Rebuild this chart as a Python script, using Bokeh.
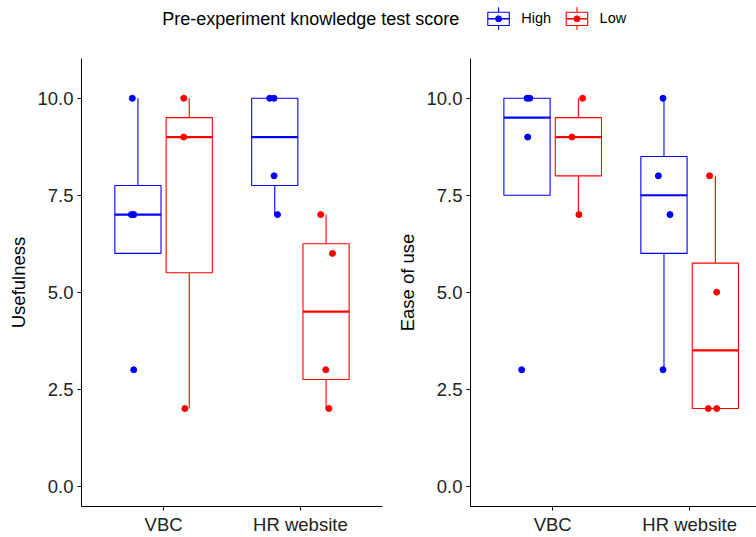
from bokeh.plotting import figure
from bokeh.layouts import column, row
from bokeh.models import ColumnDataSource, Range1d, FixedTicker, PrintfTickFormatter
from bokeh.embed import file_html
from bokeh.resources import INLINE
from bokeh.core.properties import value

# ---------------- data ----------------
categories = ["VBC", "HR website"]
groups = ["High", "Low"]
group_colors = ["#0000FF", "#FF0000"]
legend_title = "Pre-experiment knowledge test score"
y_ticks = [0, 2.5, 5, 7.5, 10]

# boxes in order (VBC,High), (VBC,Low), (HR website,High), (HR website,Low)
box_category = ["VBC", "VBC", "HR website", "HR website"]
box_group = ["High", "Low", "High", "Low"]

use_lower = [6, 2, 7, 2]
use_q1 = [6, 5.5, 7.75, 2.75]
use_median = [7, 9, 9, 4.5]
use_q3 = [7.75, 9.5, 10, 6.25]
use_upper = [10, 10, 10, 7]

ease_lower = [7.5, 7, 3, 2]
ease_q1 = [7.5, 8, 6, 2]
ease_median = [9.5, 9, 7.5, 3.5]
ease_q3 = [10, 9.5, 8.5, 5.75]
ease_upper = [10, 10, 10, 8]

pt_category = ["VBC"] * 4 + ["VBC"] * 3 + ["HR website"] * 4 + ["HR website"] * 4
pt_group = ["High"] * 4 + ["Low"] * 3 + ["High"] * 4 + ["Low"] * 4

use_pt_value = [10, 7, 7, 3, 10, 9, 2, 10, 10, 8, 7, 7, 6, 3, 2]
use_pt_jitter = [-0.041, -0.048, -0.030, -0.031, -0.040, -0.040, -0.032,
                 -0.037, -0.005, -0.005, 0.020, -0.039, 0.047, -0.002, 0.020]

ease_pt_value = [10, 10, 9, 3, 10, 9, 7, 10, 8, 7, 3, 8, 5, 2, 2]
ease_pt_jitter = [0.000, 0.020, 0.005, -0.039, 0.031, -0.047, 0.004,
                  -0.007, -0.041, 0.044, -0.007, -0.042, 0.010, -0.051, 0.010]

# ---------------- styling ----------------
FONT = "Liberation Sans"
DODGE = 0.1875
HALF_W = 0.16875
cat_pos = {c: i + 1 for i, c in enumerate(categories)}
col_of = dict(zip(groups, group_colors))
dodge_of = {"High": -DODGE, "Low": DODGE}


def panel(lower, q1, med, q3, upper, pv, pj, ylabel, x_end, width, bl, br):
    p = figure(width=width, height=489, x_range=Range1d(0.4, x_end),
               y_range=Range1d(-0.525, 11.025), output_backend="svg",
               toolbar_location=None, min_border_left=bl, min_border_right=br,
               min_border_top=10, min_border_bottom=29)
    p.outline_line_color = None
    p.grid.visible = False
    p.background_fill_color = "white"
    p.border_fill_color = "white"

    cx = [cat_pos[c] + dodge_of[g] for c, g in zip(box_category, box_group)]
    cols = [col_of[g] for g in box_group]
    src = ColumnDataSource(dict(
        x=cx, left=[x - HALF_W for x in cx], right=[x + HALF_W for x in cx],
        lower=lower, q1=q1, med=med, q3=q3, upper=upper, color=cols))
    p.segment(x0="x", y0="q3", x1="x", y1="upper", line_color="color", line_width=1.1, source=src)
    p.segment(x0="x", y0="q1", x1="x", y1="lower", line_color="color", line_width=1.1, source=src)
    p.quad(left="left", right="right", bottom="q1", top="q3", fill_color="white",
           line_color="color", line_width=1.1, source=src)
    p.segment(x0="left", y0="med", x1="right", y1="med", line_color="color", line_width=2.2, source=src)

    px = [cat_pos[c] + dodge_of[g] + j for c, g, j in zip(pt_category, pt_group, pj)]
    pc = [col_of[g] for g in pt_group]
    psrc = ColumnDataSource(dict(x=px, y=pv, color=pc))
    p.scatter(x="x", y="y", size=6, fill_color="color", line_color="color", source=psrc)

    p.xaxis.ticker = FixedTicker(ticks=[cat_pos[c] for c in categories])
    p.xaxis.major_label_overrides = {cat_pos[c]: c for c in categories}
    p.yaxis.ticker = FixedTicker(ticks=y_ticks)
    p.yaxis.formatter = PrintfTickFormatter(format="%.1f")
    for ax in (p.xaxis[0], p.yaxis[0]):
        ax.axis_line_color = "black"
        ax.axis_line_width = 1
        ax.major_tick_line_color = "black"
        ax.major_tick_in = 0
        ax.major_tick_out = 4
        ax.minor_tick_line_color = None
        ax.major_label_text_font = FONT
        ax.major_label_text_font_size = "18.5px"
        ax.major_label_text_color = "#222222"
    p.yaxis.major_label_standoff = 4
    p.xaxis.major_label_standoff = 3
    p.yaxis.axis_label = ylabel
    p.yaxis.axis_label_text_font = FONT
    p.yaxis.axis_label_text_font_size = "18.5px"
    p.yaxis.axis_label_text_font_style = "normal"
    p.yaxis.axis_label_text_color = "black"
    p.yaxis.axis_label_standoff = 5
    return p


left = panel(use_lower, use_q1, use_median, use_q3, use_upper, use_pt_value, use_pt_jitter,
             "Usefulness", 2.6, 392, 81, 10)
right = panel(ease_lower, ease_q1, ease_median, ease_q3, ease_upper, ease_pt_value, ease_pt_jitter,
              "Ease of use", 2.488, 364, 78, 0)

# ---------------- legend strip ----------------
top = figure(width=756, height=48, x_range=Range1d(0, 756), y_range=Range1d(48, 0),
             output_backend="svg", toolbar_location=None, x_axis_type=None, y_axis_type=None,
             min_border=0)
top.outline_line_color = None
top.grid.visible = False

top.text(x=[161.7], y=[18.5], text=[legend_title], text_font=value(FONT), text_font_size="18px",
         text_baseline="alphabetic", text_align="left", text_color="black")

key_left = [487.3 + i * 78.4 for i in range(len(groups))]
key_w = 21.5
kx = [k + key_w / 2 for k in key_left]
ksrc = ColumnDataSource(dict(left=key_left, right=[k + key_w for k in key_left], x=kx,
                             color=group_colors, label=groups,
                             lx=[k + 33.4 for k in key_left]))
top.segment(x0="x", y0=6.7, x1="x", y1=29.3, line_color="color", line_width=1.1, source=ksrc)
top.quad(left="left", right="right", top=11.7, bottom=25, fill_color="white",
         line_color="color", line_width=1.1, source=ksrc)
top.segment(x0="left", y0=18.3, x1="right", y1=18.3, line_color="color", line_width=1.6, source=ksrc)
top.scatter(x="x", y=18.3, size=6, fill_color="color", line_color="color", source=ksrc)
top.text(x="lx", y=17.5, text="label", text_font=value(FONT), text_font_size="14.5px",
         text_baseline="alphabetic", text_align="left", text_color="black", source=ksrc)

layout = column(top, row(left, right))
open("out.html", "w").write(file_html(layout, INLINE))
